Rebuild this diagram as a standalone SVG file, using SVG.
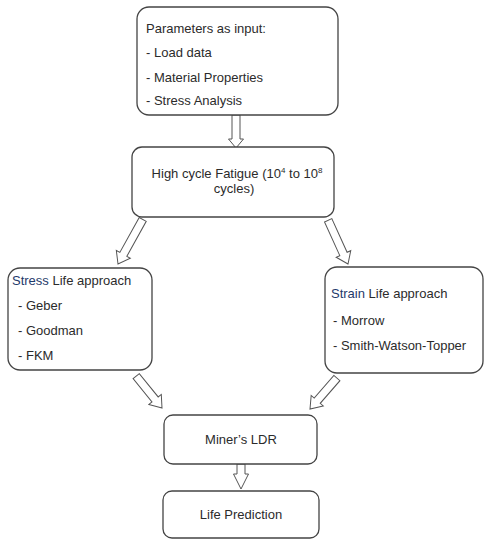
<svg xmlns="http://www.w3.org/2000/svg" width="484" height="539" viewBox="0 0 484 539">
<style>
.box{fill:#fff;stroke:#444;stroke-width:1.3}
.t{font-family:"Liberation Sans",Arial,sans-serif;font-size:13px;fill:#2b2b2b}
.c{text-anchor:middle}
.blue{fill:#1f3a6b}
.arr{fill:#fff;stroke:#555;stroke-width:1}
</style>
<rect width="484" height="539" fill="#fff"/>
<g id="connectors">
<path class="arr" transform="translate(236,148)" d="M0,0 L-7.5,-9 L-4,-9 L-4,-33 L4,-33 L4,-9 L7.5,-9 Z"/>
<path class="arr" transform="translate(118,264) rotate(29)" d="M0,0 L-8,-11 L-4,-11 L-4,-51 L4,-51 L4,-11 L8,-11 Z"/>
<path class="arr" transform="translate(348,264) rotate(-24.4)" d="M0,0 L-8,-11 L-4,-11 L-4,-48 L4,-48 L4,-11 L8,-11 Z"/>
<path class="arr" transform="translate(162,408) rotate(-39)" d="M0,0 L-8,-11 L-4,-11 L-4,-41 L4,-41 L4,-11 L8,-11 Z"/>
<path class="arr" transform="translate(310,409) rotate(41)" d="M0,0 L-8,-11 L-4,-11 L-4,-41 L4,-41 L4,-11 L8,-11 Z"/>
<path class="arr" transform="translate(241,489)" d="M0,0 L-7.5,-15 L-4,-15 L-4,-25 L4,-25 L4,-15 L7.5,-15 Z"/>
</g>
<g id="params">
<rect class="box" x="137" y="7" width="201" height="108" rx="12"/>
<text class="t" x="146" y="33">Parameters as input:</text>
<text class="t" x="146" y="57">- Load data</text>
<text class="t" x="146" y="82">- Material Properties</text>
<text class="t" x="146" y="105">- Stress Analysis</text>
</g>
<g id="hcf">
<rect class="box" x="132" y="147" width="202" height="70" rx="10"/>
<text class="t c" x="237" y="178">High cycle Fatigue (10<tspan font-size="8" dy="-5">4</tspan><tspan dy="5"> to 10</tspan><tspan font-size="8" dy="-5">8</tspan></text>
<text class="t c" x="234" y="193">cycles)</text>
</g>
<g id="stress">
<rect class="box" x="8" y="268" width="144" height="102" rx="12"/>
<text class="t" x="12" y="285"><tspan class="blue">Stress</tspan> Life approach</text>
<text class="t" x="18" y="310">- Geber</text>
<text class="t" x="18" y="335">- Goodman</text>
<text class="t" x="18" y="360">- FKM</text>
</g>
<g id="strain">
<rect class="box" x="325" y="267" width="158" height="106" rx="12"/>
<text class="t" x="331" y="298"><tspan class="blue">Strain</tspan> Life approach</text>
<text class="t" x="333" y="325">- Morrow</text>
<text class="t" x="333" y="350">- Smith-Watson-Topper</text>
</g>
<g id="miner">
<rect class="box" x="164" y="415" width="153" height="49" rx="9"/>
<text class="t c" x="241" y="444">Miner’s LDR</text>
</g>
<g id="life">
<rect class="box" x="163" y="491" width="156" height="47" rx="9"/>
<text class="t c" x="241" y="519">Life Prediction</text>
</g>
</svg>
